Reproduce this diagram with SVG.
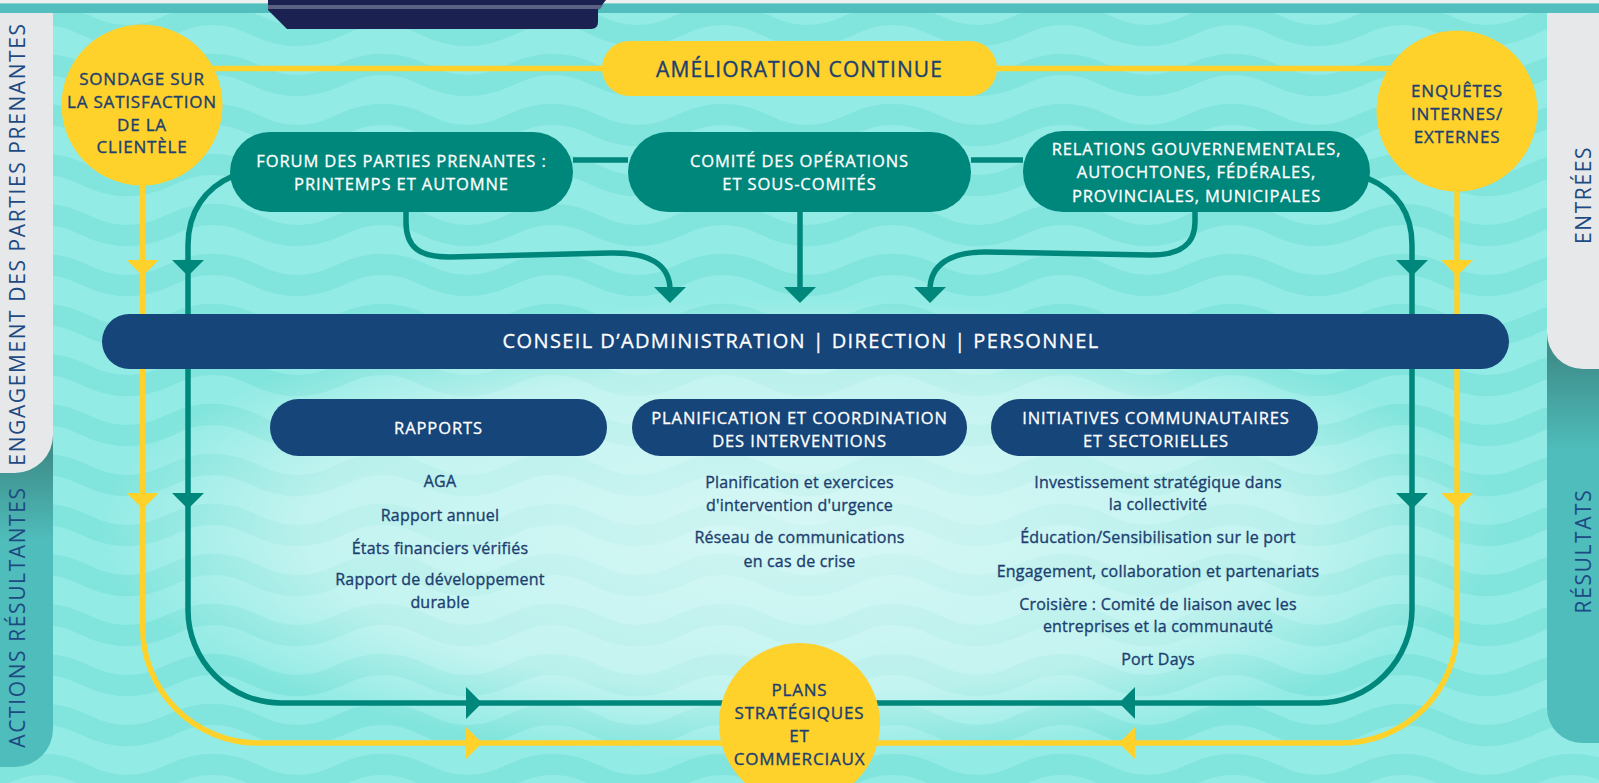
<svg xmlns="http://www.w3.org/2000/svg" width="1599" height="783" viewBox="0 0 1599 783">
<style>
text{font-family:"Open Sans","Noto Sans","Liberation Sans",sans-serif;text-anchor:middle;font-weight:500}
.nv{fill:#1c3f70;stroke:#1c3f70;stroke-width:0.35px}
.wt{fill:#ffffff;stroke:#ffffff;stroke-width:0.3px}
.cap{font-size:16.5px;letter-spacing:0.9px}
.cir{font-size:17px;letter-spacing:0.8px}
.body{font-size:16px;letter-spacing:0.2px}
.tl{stroke:#00877c;stroke-width:5.5;fill:none}
.yl{stroke:#fed12b;stroke-width:5.5;fill:none}
.tf{fill:#00877c}
.yf{fill:#fed12b}
.nf{fill:#16457a}
.tab{font-size:21px;letter-spacing:1.6px;fill:#1d4a82;font-weight:400}
</style>
<defs>
<pattern id="waves" width="170" height="50" patternUnits="userSpaceOnUse">
<rect width="170" height="50" fill="#93ebe5"/>
<path d="M-170,25 C-142,11 -113,11 -85,25 S-28,39 0,25 S57,11 85,25 S142,39 170,25 S227,11 255,25 S312,39 340,25" stroke="#82e5dd" stroke-width="21" fill="none"/>
</pattern>
<radialGradient id="glow" cx="800" cy="530" r="700" gradientUnits="userSpaceOnUse" gradientTransform="translate(800 530) scale(1 0.33) translate(-800 -530)">
<stop offset="0" stop-color="#ffffff" stop-opacity="0.62"/>
<stop offset="0.7" stop-color="#ffffff" stop-opacity="0.45"/>
<stop offset="1" stop-color="#ffffff" stop-opacity="0"/>
</radialGradient>
<linearGradient id="tabL" x1="0" y1="455" x2="0" y2="540" gradientUnits="userSpaceOnUse">
<stop offset="0" stop-color="#3e8e8a"/>
<stop offset="1" stop-color="#4fbdbb"/>
</linearGradient>
<linearGradient id="tabR" x1="0" y1="355" x2="0" y2="450" gradientUnits="userSpaceOnUse">
<stop offset="0" stop-color="#3e8e8a"/>
<stop offset="1" stop-color="#4fbdbb"/>
</linearGradient>
<path id="ah" d="M-16,-8 L16,-8 L0,8 Z"/>
</defs>

<!-- background -->
<rect width="1599" height="783" fill="url(#waves)"/>
<rect width="1599" height="783" fill="url(#glow)"/>
<rect x="0" y="0" width="1599" height="3.5" fill="#eef0f0"/>
<rect x="0" y="3.5" width="1599" height="9.5" fill="#52bebe"/>
<path d="M268,0 H606 L598,10 V22 Q598,29 591,29 H287 L268,10 Z" fill="#1b2150"/>
<path d="M268,5 H603 L600,9 H268 Z" fill="#5b6283"/>

<!-- side tabs -->
<g id="tab-left">
<path d="M0,13 H53 V729 A38,38 0 0 1 15,767 H0 Z" fill="url(#tabL)"/>
<path d="M0,13 H53 V435 A38,38 0 0 1 15,473 H0 Z" fill="#e7e8ea"/>
<text class="tab" transform="translate(25,244) rotate(-90)">ENGAGEMENT DES PARTIES PRENANTES</text>
<text class="tab" transform="translate(25,617) rotate(-90)">ACTIONS RÉSULTANTES</text>
</g>
<g id="tab-right">
<path d="M1599,13 H1547 V708 A35,35 0 0 0 1582,743 H1599 Z" fill="url(#tabR)"/>
<path d="M1599,13 H1547 V333 A36,36 0 0 0 1583,369 H1599 Z" fill="#e7e8ea"/>
<text class="tab" transform="translate(1591,195) rotate(-90)">ENTRÉES</text>
<text class="tab" transform="translate(1591,551) rotate(-90)">RÉSULTATS</text>
</g>

<!-- connectors -->
<g id="connectors">
<path class="yl" d="M142,68.5 H1457"/>
<path class="yl" d="M142.7,185 V628 A115,115 0 0 0 257.7,743 H1342 A115,115 0 0 0 1457,628 V191"/>
<path class="tl" d="M233,176 C205,188 188,212 188,245 V610 A93,93 0 0 0 281,703 H1318 A94,94 0 0 0 1412,609 V245 C1412,212 1395,190 1367,178"/>
<path class="tl" d="M573,160 H628 M971,160 H1023"/>
<path class="tl" d="M406,212 V222 C406,248 420,257 450,257 L610,253 C650,252 670,265 670,290"/>
<path class="tl" d="M800,212 V290"/>
<path class="tl" d="M1195,212 V222 C1195,245 1180,255 1150,255 L985,252 C950,252 930,265 930,290"/>
<use href="#ah" class="tf" transform="translate(670,295)"/>
<use href="#ah" class="tf" transform="translate(800,295)"/>
<use href="#ah" class="tf" transform="translate(930,295)"/>
<use href="#ah" class="yf" transform="translate(142.7,268)"/>
<use href="#ah" class="tf" transform="translate(188,268)"/>
<use href="#ah" class="tf" transform="translate(1412,268)"/>
<use href="#ah" class="yf" transform="translate(1457,268)"/>
<use href="#ah" class="yf" transform="translate(142.7,501)"/>
<use href="#ah" class="tf" transform="translate(188,501)"/>
<use href="#ah" class="tf" transform="translate(1412,501)"/>
<use href="#ah" class="yf" transform="translate(1457,501)"/>
<use href="#ah" class="tf" transform="translate(474,703) rotate(-90)"/>
<use href="#ah" class="yf" transform="translate(474,743) rotate(-90)"/>
<use href="#ah" class="tf" transform="translate(1127,703) rotate(90)"/>
<use href="#ah" class="yf" transform="translate(1127,743) rotate(90)"/>
</g>

<!-- nodes -->
<g id="amelioration">
<rect x="602" y="41" width="395" height="55" rx="27.5" class="yf"/>
<text x="799.5" y="76.5" class="nv" style="font-size:21px;letter-spacing:1.1px">AMÉLIORATION CONTINUE</text>
</g>
<g id="sondage">
<circle cx="142" cy="105" r="80.5" class="yf"/>
<text class="nv cir" x="142" y="85">SONDAGE SUR</text>
<text class="nv cir" x="142" y="108">LA SATISFACTION</text>
<text class="nv cir" x="142" y="130.5">DE LA</text>
<text class="nv cir" x="142" y="153">CLIENTÈLE</text>
</g>
<g id="enquetes">
<circle cx="1457" cy="111" r="80.5" class="yf"/>
<text class="nv cir" x="1457" y="96.5">ENQUÊTES</text>
<text class="nv cir" x="1457" y="120">INTERNES/</text>
<text class="nv cir" x="1457" y="143">EXTERNES</text>
</g>
<g id="forum">
<rect x="230" y="132" width="343" height="80" rx="40" class="tf"/>
<text class="wt cap" x="401.5" y="166.5">FORUM DES PARTIES PRENANTES :</text>
<text class="wt cap" x="401.5" y="190">PRINTEMPS ET AUTOMNE</text>
</g>
<g id="comite">
<rect x="628" y="132" width="343" height="80" rx="40" class="tf"/>
<text class="wt cap" x="799.5" y="166.5">COMITÉ DES OPÉRATIONS</text>
<text class="wt cap" x="799.5" y="190">ET SOUS-COMITÉS</text>
</g>
<g id="relations">
<rect x="1023" y="131" width="347" height="81" rx="40" class="tf"/>
<text class="wt cap" x="1196.5" y="155">RELATIONS GOUVERNEMENTALES,</text>
<text class="wt cap" x="1196.5" y="178">AUTOCHTONES, FÉDÉRALES,</text>
<text class="wt cap" x="1196.5" y="201.5">PROVINCIALES, MUNICIPALES</text>
</g>
<g id="conseil">
<rect x="102" y="314" width="1407" height="55" rx="27.5" class="nf"/>
<text class="wt" x="801" y="348" style="font-size:20px;letter-spacing:1.4px">CONSEIL D’ADMINISTRATION | DIRECTION | PERSONNEL</text>
</g>
<g id="rapports">
<rect x="270" y="399" width="337" height="57" rx="28.5" class="nf"/>
<text class="wt cap" x="438.5" y="434">RAPPORTS</text>
<text class="nv body" x="440" y="487">AGA</text>
<text class="nv body" x="440" y="520.5">Rapport annuel</text>
<text class="nv body" x="440" y="554">États financiers vérifiés</text>
<text class="nv body" x="440" y="585">Rapport de développement</text>
<text class="nv body" x="440" y="608">durable</text>
</g>
<g id="planification">
<rect x="632" y="399" width="335" height="57" rx="28.5" class="nf"/>
<text class="wt cap" x="799.5" y="423.5">PLANIFICATION ET COORDINATION</text>
<text class="wt cap" x="799.5" y="446.5">DES INTERVENTIONS</text>
<text class="nv body" x="799.5" y="487.5">Planification et exercices</text>
<text class="nv body" x="799.5" y="510.5">d'intervention d'urgence</text>
<text class="nv body" x="799.5" y="543">Réseau de communications</text>
<text class="nv body" x="799.5" y="566.5">en cas de crise</text>
</g>
<g id="initiatives">
<rect x="991" y="399" width="327" height="57" rx="28.5" class="nf"/>
<text class="wt cap" x="1156" y="423.5">INITIATIVES COMMUNAUTAIRES</text>
<text class="wt cap" x="1156" y="446.5">ET SECTORIELLES</text>
<text class="nv body" x="1158" y="487.5">Investissement stratégique dans</text>
<text class="nv body" x="1158" y="510">la collectivité</text>
<text class="nv body" x="1158" y="543">Éducation/Sensibilisation sur le port</text>
<text class="nv body" x="1158" y="576.5">Engagement, collaboration et partenariats</text>
<text class="nv body" x="1158" y="610">Croisière : Comité de liaison avec les</text>
<text class="nv body" x="1158" y="632">entreprises et la communauté</text>
<text class="nv body" x="1158" y="665">Port Days</text>
</g>
<g id="plans">
<circle cx="799.5" cy="723.5" r="80.5" class="yf"/>
<text class="nv cir" x="799.5" y="696">PLANS</text>
<text class="nv cir" x="799.5" y="719">STRATÉGIQUES</text>
<text class="nv cir" x="799.5" y="742">ET</text>
<text class="nv cir" x="799.5" y="765">COMMERCIAUX</text>
</g>
</svg>
